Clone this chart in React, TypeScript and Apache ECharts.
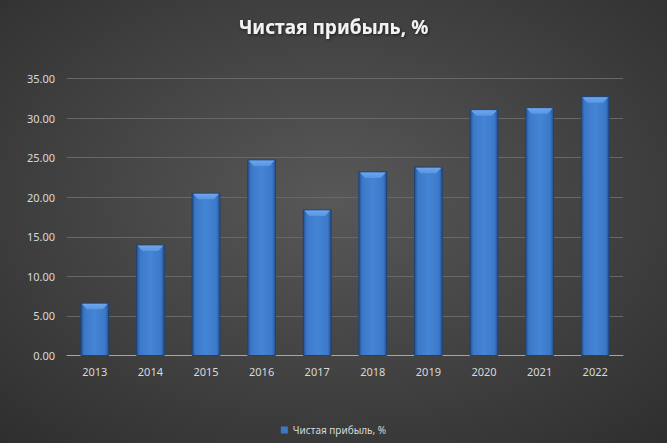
import React, { useEffect, useRef } from "react";
import * as echarts from "echarts";

const categories = ["2013", "2014", "2015", "2016", "2017", "2018", "2019", "2020", "2021", "2022"];
const values = [6.6, 13.95, 20.5, 24.7, 18.4, 23.2, 23.8, 31.05, 31.3, 32.7];
const seriesName = "Чистая прибыль, %";
const titleText = "Чистая прибыль, %";

export default function App() {
  const ref = useRef<HTMLDivElement>(null);
  useEffect(() => {
    if (!ref.current) return;
    const chart = echarts.init(ref.current, null, { renderer: "svg" });
    const font = "'Noto Sans', 'Open Sans', sans-serif";
    chart.setOption({
      animation: false,
      backgroundColor: new echarts.graphic.RadialGradient(0.5, 0.45, 0.75, [
        { offset: 0, color: "#585858" },
        { offset: 1, color: "#2e2e2e" },
      ]),
      title: {
        text: titleText,
        left: "center",
        top: 12,
        textStyle: {
          color: "#f2f2f2",
          fontSize: 19,
          fontWeight: "bold",
          fontFamily: font,
          textShadowColor: "rgba(0,0,0,0.6)",
          textShadowBlur: 3,
          textShadowOffsetX: 1,
          textShadowOffsetY: 1,
        },
      },
      legend: {
        bottom: 3,
        left: "center",
        icon: "rect",
        itemWidth: 7,
        itemHeight: 7,
        itemGap: 4,
        textStyle: { color: "#d9d9d9", fontSize: 10, fontFamily: font },
        data: [{ name: seriesName, itemStyle: { color: "#3c78c8" } }],
      },
      grid: { left: 67, right: 44, top: 78.5, bottom: 87.5, containLabel: false },
      xAxis: {
        type: "category",
        data: categories,
        axisLine: { lineStyle: { color: "#a6a6a6", width: 1 } },
        axisTick: { show: false },
        axisLabel: { color: "#d9d9d9", fontSize: 11, fontFamily: font, margin: 10 },
      },
      yAxis: {
        type: "value",
        min: 0,
        max: 35,
        interval: 5,
        axisLine: { show: false },
        axisTick: { show: false },
        axisLabel: {
          color: "#d9d9d9",
          fontSize: 11,
          fontFamily: font,
          margin: 12,
          formatter: (v: number) => v.toFixed(2),
        },
        splitLine: { lineStyle: { color: "#686868", width: 1 } },
      },
      series: [
        {
          name: seriesName,
          type: "custom",
          data: values.map((v, i) => [i, v]),
          encode: { x: 0, y: 1 },
          renderItem: (params: any, api: any) => {
            const idx = api.value(0);
            const v = api.value(1);
            const top = api.coord([idx, v]);
            const base = api.coord([idx, 0]);
            const w = api.size([1, 0])[0] * 0.5;
            const x0 = top[0] - w / 2;
            const x1 = top[0] + w / 2;
            const y0 = top[1];
            const y1 = base[1];
            const bev = 6;
            return {
              type: "group",
              children: [
                {
                  type: "rect",
                  shape: { x: x0, y: y0, width: w, height: y1 - y0 },
                  style: {
                    fill: new echarts.graphic.LinearGradient(0, 0, 1, 0, [
                      { offset: 0, color: "#24508f" },
                      { offset: 0.12, color: "#3c78c8" },
                      { offset: 0.5, color: "#4585d6" },
                      { offset: 0.88, color: "#3c78c8" },
                      { offset: 1, color: "#24508f" },
                    ]),
                    stroke: "#1e4275",
                    lineWidth: 1,
                  },
                },
                {
                  type: "polygon",
                  shape: {
                    points: [
                      [x0 + 1, y0 + 0.5],
                      [x1 - 1, y0 + 0.5],
                      [x1 - bev, y0 + bev],
                      [x0 + bev, y0 + bev],
                    ],
                  },
                  style: {
                    fill: new echarts.graphic.LinearGradient(0, 0, 0, 1, [
                      { offset: 0, color: "#6fa6ec" },
                      { offset: 1, color: "#5a95e2" },
                    ]),
                  },
                },
              ],
            };
          },
        },
      ],
    });
    return () => chart.dispose();
  }, []);
  return (
    <div
      ref={ref}
      style={{ position: "absolute", left: 0, top: 0, width: 667, height: 443 }}
    />
  );
}
